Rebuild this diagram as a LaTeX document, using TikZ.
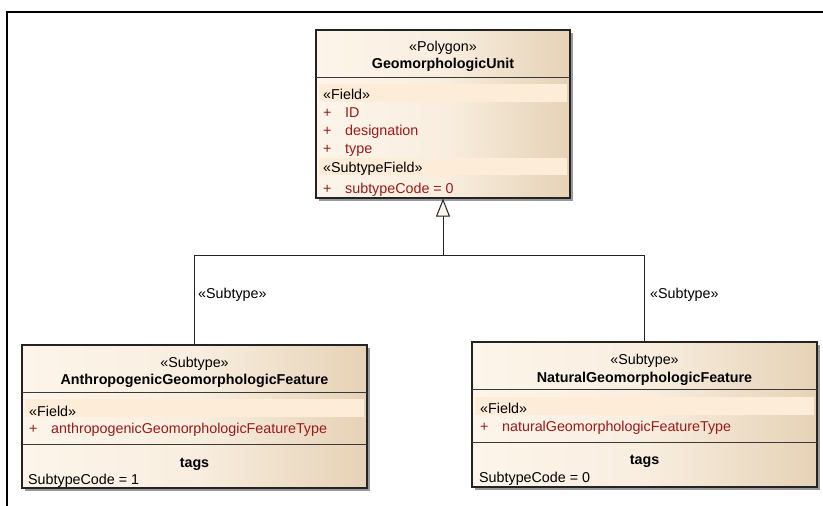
\documentclass[tikz,border=0pt]{standalone}
\usepackage{fontspec}
\setmainfont{Liberation Sans}
\usetikzlibrary{arrows.meta,shadows}
\definecolor{boxL}{RGB}{253,245,234}
\definecolor{boxR}{RGB}{230,210,182}
\definecolor{band}{RGB}{252,236,216}
\definecolor{attr}{RGB}{155,25,25}
\definecolor{edge}{RGB}{35,35,35}
\begin{document}
\begin{tikzpicture}[x=1pt,y=-1pt,
  umlbox/.style={draw=edge, line width=1.2pt, inner sep=0pt,
    left color=boxL, right color=boxR, middle color=boxL!80!boxR,
    drop shadow={shadow xshift=3pt, shadow yshift=-3pt, fill=black!40, opacity=1}},
  sepline/.style={draw=edge!90, line width=0.9pt},
  bandfill/.style={fill=band},
  txt/.style={anchor=base west, inner sep=0pt, font=\fontsize{14.3}{16}\selectfont},
  ctxt/.style={anchor=base, inner sep=0pt, font=\fontsize{14.3}{16}\selectfont},
  btxt/.style={anchor=base, inner sep=0pt, font=\fontsize{14.3}{16}\selectfont\bfseries},
  atxt/.style={txt, text=attr},
  conn/.style={draw=edge, line width=0.9pt},
  gen/.style={conn, -{Triangle[open, fill=boxL, length=18pt, width=14pt, line width=1pt]}}
]
\useasboundingbox (0,0) rectangle (823,506);
% outer frame
\draw[line width=2pt, black] (7,506) -- (7,12) -- (823,12);

% ---------- top box ----------
\node[umlbox, minimum width=254pt, minimum height=168pt] (top) at (443,114) {};
\draw[sepline] (316,77) -- (570,77);
\fill[bandfill] (319,84) rectangle (567,102);
\fill[bandfill] (319,158) rectangle (567,175);
\node[ctxt] (topst) at (443,52) {«Polygon»};
\node[btxt] (topname) at (443,68) {GeomorphologicUnit};
\node[txt] (topf) at (323,99) {«Field»};
\node[atxt] (tp1) at (323,117) {+};
\node[atxt] (ta1) at (345,117) {ID};
\node[atxt] (tp2) at (323,135) {+};
\node[atxt] (ta2) at (345,135) {designation};
\node[atxt] (tp3) at (323,153) {+};
\node[atxt] (ta3) at (345,153) {type};
\node[txt] (topsf) at (323,172) {«SubtypeField»};
\node[atxt] (tp4) at (323,193) {+};
\node[atxt] (ta4) at (345,193) {subtypeCode = 0};

% ---------- left box ----------
\node[umlbox, minimum width=345pt, minimum height=143pt] (left) at (194.5,416.5) {};
\draw[sepline] (22,392) -- (367,392);
\fill[bandfill] (25,399) rectangle (364,417);
\draw[sepline] (22,444) -- (367,444);
\node[ctxt] (leftst) at (194.5,367) {«Subtype»};
\node[btxt] (leftname) at (194.5,384) {AnthropogenicGeomorphologicFeature};
\node[txt] (leftf) at (29,416) {«Field»};
\node[atxt] (lp1) at (29,433) {+};
\node[atxt] (la1) at (51,433) {anthropogenicGeomorphologicFeatureType};
\node[btxt] (ltags) at (194.5,467) {tags};
\node[txt] (lcode) at (28,484) {SubtypeCode = 1};

% ---------- right box ----------
\node[umlbox, minimum width=345pt, minimum height=145pt] (right) at (644.5,414.5) {};
\draw[sepline] (472,389) -- (817,389);
\fill[bandfill] (475,397) rectangle (814,415);
\draw[sepline] (472,442) -- (817,442);
\node[ctxt] (rightst) at (644.5,364) {«Subtype»};
\node[btxt] (rightname) at (644.5,382) {NaturalGeomorphologicFeature};
\node[txt] (rightf) at (480,413) {«Field»};
\node[atxt] (rp1) at (480,431) {+};
\node[atxt] (ra1) at (502,431) {naturalGeomorphologicFeatureType};
\node[btxt] (rtags) at (644.5,464) {tags};
\node[txt] (rcode) at (479,482) {SubtypeCode = 0};

% ---------- connectors ----------
\coordinate (j) at (443,255);
\draw[conn] (left.north) |- (j);
\draw[conn] (right.north) |- (j);
\draw[gen] (j) -- (top.south);
\node[txt] (lbl1) at (198,298) {«Subtype»};
\node[txt] (lbl2) at (650,298) {«Subtype»};
\end{tikzpicture}
\end{document}
